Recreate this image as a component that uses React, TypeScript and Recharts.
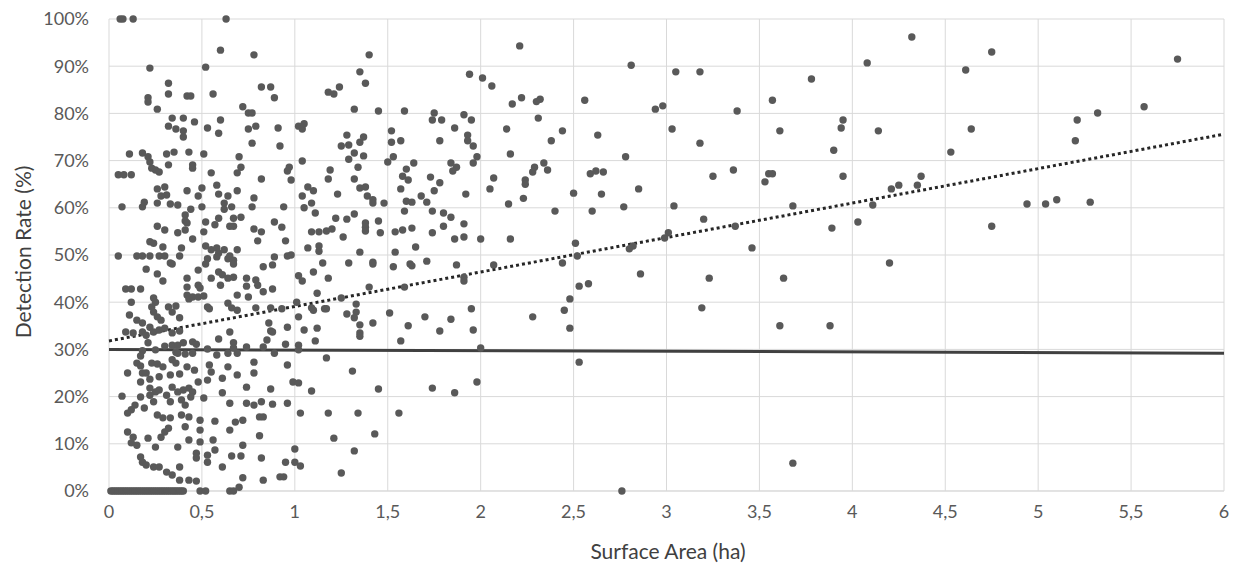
import React from 'react';
import {
  ScatterChart,
  Scatter,
  XAxis,
  YAxis,
  CartesianGrid,
  ReferenceLine,
  Label,
} from 'recharts';

// axis ticks
const xTicks = [0, 0.5, 1, 1.5, 2, 2.5, 3, 3.5, 4, 4.5, 5, 5.5, 6];
const yTicks = [0, 10, 20, 30, 40, 50, 60, 70, 80, 90, 100];

// sites with 0% detection (the solid bar along the bottom)
const zeroRow = [
  0.01, 0.02, 0.03, 0.04, 0.05, 0.06, 0.07, 0.08, 0.09, 0.1, 0.11, 0.12, 0.13, 0.14,
  0.15, 0.16, 0.17, 0.18, 0.19, 0.2, 0.21, 0.22, 0.23, 0.24, 0.25, 0.26, 0.27, 0.28,
  0.29, 0.3, 0.31, 0.32, 0.33, 0.34, 0.35, 0.36, 0.37, 0.38, 0.39, 0.4, 0.49, 0.52,
  0.65, 0.67, 2.76,
];

// [surface area (ha), detection rate (%)]
const underOneUpper: [number, number][] = [
  [0.06, 100], [0.075, 100], [0.13, 100], [0.63, 100], [0.6, 93.4], [0.78, 92.4],
  [0.22, 89.6], [0.52, 89.8], [0.32, 86.4], [0.32, 84.1], [0.82, 85.6], [0.87, 85.6],
  [0.89, 83.3], [0.21, 83.3], [0.21, 82.4], [0.42, 83.7], [0.44, 83.7], [0.56, 84.1],
  [0.26, 80.9], [0.72, 81.4], [0.75, 80.1], [0.77, 80.1], [0.34, 79], [0.4, 79],
  [0.46, 78.2], [0.6, 78.6], [0.32, 77.3], [0.36, 76.7], [0.4, 76.3], [0.4, 75],
  [0.53, 76.9], [0.59, 75.8], [0.75, 76.7], [0.79, 77.3], [0.91, 76.9], [0.77, 73.7],
  [0.92, 73.1], [0.11, 71.4], [0.18, 71.6], [0.21, 70.8], [0.22, 69.7], [0.31, 71.4],
  [0.35, 71.8], [0.43, 71.8], [0.51, 71.4], [0.32, 69.1], [0.23, 68.4], [0.25, 68],
  [0.27, 67.6], [0.45, 69.1], [0.45, 68.4], [0.7, 70.8], [0.71, 68.6], [0.97, 68.6],
  [0.96, 67.8], [0.55, 67.4], [0.69, 67.4], [0.05, 67], [0.08, 67], [0.12, 67],
  [0.26, 64], [0.3, 64.4], [0.31, 62.7], [0.28, 62.5], [0.42, 63.6], [0.48, 62.5],
  [0.5, 64.2], [0.58, 64.8], [0.59, 62.9], [0.64, 62.5], [0.69, 63.6], [0.78, 62.1],
  [0.82, 66.1], [0.98, 65.9], [0.07, 60.2], [0.18, 60.2], [0.19, 61.2], [0.26, 61],
  [0.33, 60.8], [0.37, 60.6], [0.44, 59.7], [0.5, 60.2], [0.62, 61], [0.62, 59.7],
  [0.66, 60.2], [0.77, 60.2], [0.94, 60.2], [0.41, 58.5], [0.41, 57.2], [0.42, 56.8],
  [0.52, 57], [0.59, 57.8], [0.57, 56.4], [0.67, 57.8], [0.71, 58], [0.65, 56.1],
  [0.67, 56.1], [0.26, 56.1], [0.3, 55.3], [0.37, 54.7], [0.41, 55.3], [0.51, 54.9],
  [0.78, 55.5], [0.82, 54.9], [0.8, 53], [0.89, 57], [0.93, 55.9], [0.95, 53],
  [0.45, 53.4], [0.22, 52.8], [0.24, 52.5], [0.29, 51.7], [0.39, 51.5], [0.52, 51.9],
  [0.55, 51.1], [0.58, 51.5], [0.59, 50.4], [0.58, 49.6], [0.62, 51.1], [0.65, 49.8],
  [0.69, 51.1], [0.05, 49.8], [0.15, 49.8], [0.18, 49.8], [0.22, 49.8], [0.27, 49.8],
  [0.3, 49.8], [0.38, 49.8], [0.53, 49.2], [0.64, 49.2], [0.67, 48.9], [0.89, 49.6],
  [0.96, 49.8], [0.98, 50],
];

const underOneMiddle: [number, number][] = [
  [0.33, 48.3], [0.34, 48.1], [0.52, 48.1], [0.48, 46.8], [0.67, 48.1], [0.88, 47.9],
  [0.83, 47.5], [0.2, 47], [0.26, 46], [0.29, 44.5], [0.42, 45.1], [0.42, 43.2],
  [0.48, 43.6], [0.49, 43], [0.55, 45.1], [0.59, 46.4], [0.6, 43.6], [0.61, 45.8],
  [0.64, 45.1], [0.67, 45.3], [0.74, 45.1], [0.74, 43.4], [0.79, 44.7], [0.8, 43.6],
  [0.83, 42.2], [0.88, 42.8], [0.69, 41.5], [0.75, 41.1], [0.09, 42.8], [0.12, 42.8],
  [0.17, 42.8], [0.24, 40.9], [0.25, 40], [0.42, 41.5], [0.43, 40.7], [0.45, 41.1],
  [0.48, 41.1], [0.51, 41.3], [0.12, 40], [0.32, 39], [0.36, 39.2], [0.53, 39],
  [0.54, 38.6], [0.64, 39.8], [0.66, 38.8], [0.69, 38.3], [0.11, 37.3], [0.15, 36.2],
  [0.18, 35.6], [0.23, 39], [0.24, 37.9], [0.26, 36.9], [0.28, 36.2], [0.34, 37.9],
  [0.38, 36.7], [0.79, 38.8], [0.87, 38.8], [0.93, 38.6], [0.86, 35.6], [0.87, 33.9],
  [0.96, 34.7], [0.09, 33.7], [0.13, 33.5], [0.18, 33.7], [0.22, 34.7], [0.24, 33.7],
  [0.27, 34.1], [0.3, 34.5], [0.2, 33], [0.34, 33.5], [0.38, 33.9], [0.21, 31.4],
  [0.3, 30.7], [0.34, 30.9], [0.37, 30.9], [0.4, 31.4], [0.45, 31.6], [0.47, 31.1],
  [0.59, 32.2], [0.65, 33.7], [0.67, 31.4], [0.67, 30.3], [0.74, 30.5], [0.83, 30.5],
  [0.88, 33.7], [0.85, 32], [0.95, 31.1],
];

const underOneLower: [number, number][] = [
  [0.18, 29.7], [0.17, 28.6], [0.25, 29.9], [0.36, 29.4], [0.37, 29.2], [0.45, 29.2],
  [0.41, 29], [0.53, 30.1], [0.58, 28.8], [0.64, 29.2], [0.69, 29.2], [0.89, 29.2],
  [0.15, 27.1], [0.17, 26.5], [0.23, 27.1], [0.26, 26.9], [0.29, 26.3], [0.34, 27.8],
  [0.36, 27.1], [0.1, 25], [0.18, 25], [0.2, 25], [0.22, 23.7], [0.27, 24.2],
  [0.33, 24.6], [0.38, 24.8], [0.42, 26.3], [0.46, 25.6], [0.54, 26.7], [0.55, 25.2],
  [0.53, 23.5], [0.64, 26.3], [0.69, 24.6], [0.78, 25], [0.78, 27.3], [0.96, 26.7],
  [0.61, 23.9], [0.17, 23.1], [0.22, 21.8], [0.25, 21], [0.27, 21.4], [0.34, 22],
  [0.37, 21], [0.4, 21.4], [0.43, 21.8], [0.45, 21], [0.48, 23.1], [0.74, 22],
  [0.87, 21.6], [0.61, 20.8], [0.07, 20.1], [0.22, 20.3], [0.24, 18.9], [0.17, 19.9],
  [0.31, 20.3], [0.33, 18.9], [0.39, 19.3], [0.41, 18.2], [0.44, 19.9], [0.51, 19.7],
  [0.65, 18.6], [0.74, 18.6], [0.78, 18.2], [0.82, 18.9], [0.88, 18.4], [0.96, 18.6],
  [0.14, 18.2], [0.12, 17.2], [0.1, 16.5], [0.19, 17.6], [0.26, 16.1], [0.29, 15.5],
  [0.33, 15.5], [0.39, 16.1], [0.43, 15.7], [0.41, 13.6], [0.49, 15], [0.57, 14.8],
  [0.49, 12.9], [0.68, 14.6], [0.72, 15], [0.81, 15.7], [0.83, 15.7], [0.65, 12.9],
  [0.81, 11.7], [0.1, 12.5], [0.13, 11.4], [0.12, 10.2], [0.15, 9.7], [0.21, 11.2],
  [0.25, 9.3], [0.28, 11.4], [0.3, 12.5], [0.32, 13.3], [0.37, 9.3], [0.43, 10.8],
  [0.49, 10.4], [0.56, 10.8], [0.57, 8.7], [0.53, 7.6], [0.53, 6.1], [0.61, 5.1],
  [0.66, 7.4], [0.71, 7.4], [0.72, 9.7], [0.47, 8], [0.47, 7], [0.17, 7.2],
  [0.18, 6.1], [0.2, 5.5], [0.24, 5.1], [0.27, 5.1], [0.31, 4], [0.34, 3.4],
  [0.38, 5.1], [0.38, 2.3], [0.43, 2.3], [0.47, 2.1], [0.82, 7], [0.95, 6.1],
  [0.92, 3], [0.94, 3], [0.83, 2.3], [0.72, 2.8], [0.7, 0.8],
];

const oneToTwo: [number, number][] = [
  [1.4, 92.4], [1.35, 88.8], [1.38, 86.4], [1.18, 84.5], [1.21, 84.1], [1.24, 85.6],
  [1.32, 80.9], [1.45, 80.5], [1.59, 80.5], [1.94, 88.3], [1.02, 77.3], [1.04, 76.7],
  [1.05, 77.8], [1.28, 75.4], [1.37, 75], [1.35, 73.9], [1.25, 73.1], [1.29, 73.3],
  [1.32, 71.6], [1.37, 71], [1.29, 70.3], [1.34, 68.6], [1.04, 69.9], [1.19, 68],
  [1.52, 76.3], [1.52, 73.9], [1.57, 74.2], [1.53, 70.8], [1.5, 69.7], [1.64, 69.5],
  [1.6, 68.2], [1.75, 80.1], [1.74, 78.6], [1.79, 78.6], [1.91, 79.7], [1.95, 78.6],
  [1.86, 76.9], [1.78, 74.2], [1.93, 75.4], [1.93, 74.2], [1.96, 73.1], [1.98, 70.8],
  [1.96, 69.5], [1.84, 69.5], [1.87, 68.6], [1.85, 67.8], [1.18, 66.1], [1.07, 64.4],
  [1.1, 63.6], [1.04, 62.5], [1.05, 60], [1.09, 61], [1.11, 58.9], [1.23, 62.9],
  [1.32, 66.1], [1.35, 64.2], [1.38, 64.4], [1.39, 62.5], [1.42, 61.7], [1.42, 61],
  [1.48, 61], [1.58, 66.7], [1.61, 65.9], [1.57, 64], [1.73, 66.5], [1.78, 65.3],
  [1.75, 63.6], [1.92, 62.9], [1.6, 61.4], [1.63, 61.2], [1.59, 59.3], [1.68, 62.5],
  [1.71, 61.2], [1.74, 59.3], [1.8, 58.9], [1.84, 58], [1.8, 56.1], [1.91, 56.6],
  [1.91, 53.8], [1.86, 53.4], [1.22, 57.8], [1.28, 57.6], [1.32, 58.7], [1.09, 54.9],
  [1.13, 54.9], [1.17, 55.1], [1.2, 55.5], [1.26, 53.8], [1.38, 56.8], [1.38, 55.9],
  [1.38, 55.1], [1.45, 57.2], [1.46, 54.7], [1.54, 54.9], [1.58, 55.3], [1.63, 55.7],
  [1.65, 51.7], [1.74, 54.7], [1.07, 51.5], [1.13, 51.9], [1.13, 50.8], [1.35, 50.6],
  [1.54, 50.6], [1.15, 48.3], [1.29, 48.3], [1.42, 48.5], [1.42, 48.1], [1.53, 47.5],
  [1.62, 48.1], [1.63, 47.7], [1.71, 48.7], [1.87, 47.9], [1.1, 46.4], [1.18, 45.1],
  [1.02, 45.6], [1.04, 44.5], [1.91, 44.5], [1.91, 45.3], [1.4, 43.2], [1.59, 43.2],
  [1.12, 41.9], [1.25, 40.9], [1.33, 39.6], [1.02, 36.9], [1.09, 38.8], [1.1, 38.3],
  [1.16, 38.6], [1.17, 38.6], [1.28, 37.5], [1.33, 37.9], [1.32, 36.7], [1.35, 35.2],
  [1.42, 35.6], [1.51, 37.7], [1.7, 36.9], [1.84, 36.4], [1.95, 38.6], [1.61, 35],
  [1.78, 33.9], [1.96, 34.1], [1.05, 34.1], [1.12, 34.5], [1.35, 33.5], [1.01, 40],
  [1.11, 31.8], [1.02, 30.9], [1.02, 29.9], [1.35, 32.8], [1.57, 31.8], [1.17, 28.2],
  [1.31, 25.4], [0.99, 23.1], [1.02, 22.9], [1.09, 21.2], [1.45, 21.6], [1.74, 21.8],
  [1.86, 20.8], [1.98, 23.1], [1.03, 16.5], [1.18, 16.5], [1.34, 16.5], [1.56, 16.5],
  [1.21, 11.2], [1.43, 12.1], [1.0, 8.9], [1.32, 8.5], [1.0, 6.1], [1.03, 5.3],
  [1.25, 3.8],
];

const twoToFour: [number, number][] = [
  [2.21, 94.3], [2.01, 87.5], [2.06, 85.8], [2.17, 82], [2.22, 83.3], [2.3, 82.5],
  [2.32, 83], [2.31, 79], [2.14, 76.7], [2.44, 76.3], [2.38, 74.2], [2.16, 71.4],
  [2.29, 68.6], [2.28, 67.6], [2.34, 69.5], [2.36, 68], [2.07, 66.3], [2.05, 64],
  [2.24, 65.9], [2.24, 65], [2.23, 62], [2.15, 60.8], [2.4, 59.3], [2.5, 63.1],
  [2.16, 53.4], [2.0, 53.4], [2.51, 52.5], [2.52, 49.8], [2.56, 82.8], [2.81, 90.2],
  [2.63, 75.4], [2.78, 70.8], [2.59, 67.2], [2.62, 67.8], [2.66, 67.6], [2.65, 62.9],
  [2.85, 64], [2.6, 59.3], [2.77, 60.2], [2.94, 80.9], [2.98, 81.6], [3.05, 88.8],
  [3.18, 88.8], [3.03, 76.7], [3.18, 73.7], [3.38, 80.5], [3.04, 60.4], [3.25, 66.7],
  [3.36, 68], [3.2, 57.6], [3.37, 56.1], [3.46, 51.5], [2.8, 51.3], [2.82, 51.9],
  [2.99, 53.6], [3.01, 54.7], [3.78, 87.3], [3.57, 82.8], [3.61, 76.3], [3.95, 78.6],
  [3.94, 76.9], [3.9, 72.2], [3.53, 65.5], [3.55, 67.2], [3.57, 67.2], [3.95, 66.7],
  [3.68, 60.4], [3.89, 55.7], [2.07, 47.9], [2.44, 48.3], [2.86, 46], [2.53, 43.4],
  [2.58, 43.9], [2.48, 40.7], [2.45, 38.3], [2.48, 34.5], [2.28, 36.9], [3.23, 45.1],
  [3.19, 38.8], [3.63, 45.1], [3.61, 35], [3.88, 35], [2.53, 27.3], [3.68, 5.9],
  [2.0, 30.3],
];

const fourToSix: [number, number][] = [
  [4.03, 57], [4.32, 96.2], [4.08, 90.7], [4.75, 93], [4.61, 89.2], [5.75, 91.5],
  [4.14, 76.3], [4.64, 76.7], [4.53, 71.8], [5.57, 81.4], [5.32, 80.1], [5.21, 78.6],
  [5.2, 74.2], [4.37, 66.7], [4.35, 64.8], [4.25, 64.8], [4.21, 64], [4.11, 60.6],
  [4.2, 48.3], [4.75, 56.1], [4.94, 60.8], [5.04, 60.8], [5.1, 61.7], [5.28, 61.2],
];

// linear trend (dotted) and 30% reference line (solid), as end values at x=0 and x=6
const trendAt0 = 31.8;
const trendAt6 = 75.6;
const refAt0 = 30;
const refAt6 = 29.2;

const points = [
  ...zeroRow.map((x) => ({ x, y: 0 })),
  ...[...underOneUpper, ...underOneMiddle, ...underOneLower, ...oneToTwo, ...twoToFour, ...fourToSix].map(
    ([x, y]) => ({ x, y })
  ),
];

const FONT = 'Lato, "Liberation Sans", sans-serif';
const TICK = { fill: '#595959', fontSize: 18, fontFamily: FONT };

const Dot = (props: any) => <circle cx={props.cx} cy={props.cy} r={3.7} fill="#595959" />;

export default function App() {
  return (
    <div style={{ position: 'absolute', left: 0, top: 0, width: 1237, height: 571, background: '#fff' }}>
      <ScatterChart width={1237} height={571} margin={{ top: 19, right: 13, bottom: 0, left: 0 }}>
        <CartesianGrid stroke="#d9d9d9" strokeWidth={1} />
        <XAxis
          type="number"
          dataKey="x"
          domain={[0, 6]}
          ticks={xTicks}
          tickFormatter={(v: number) => String(v).replace('.', ',')}
          tick={TICK}
          axisLine={{ stroke: '#d9d9d9' }}
          tickLine={false}
          tickSize={0}
          tickMargin={14}
          height={80}
        >
          <Label
            content={() => (
              <text
                x={668}
                y={550}
                textAnchor="middle"
                dominantBaseline="central"
                fill="#404040"
                fontSize={21}
                fontFamily={FONT}
              >
                Surface Area (ha)
              </text>
            )}
          />
        </XAxis>
        <YAxis
          type="number"
          dataKey="y"
          domain={[0, 100]}
          ticks={yTicks}
          tickFormatter={(v: number) => `${v}%`}
          tick={TICK}
          axisLine={false}
          tickLine={false}
          tickSize={0}
          tickMargin={20}
          width={109}
        >
          <Label
            content={() => (
              <text
                x={22}
                y={252}
                transform="rotate(-90 22 252)"
                textAnchor="middle"
                dominantBaseline="central"
                fill="#404040"
                fontSize={21}
                fontFamily={FONT}
              >
                Detection Rate (%)
              </text>
            )}
          />
        </YAxis>
        <Scatter data={points} shape={Dot} isAnimationActive={false} />
        <ReferenceLine
          segment={[{ x: 0, y: refAt0 }, { x: 6, y: refAt6 }]}
          stroke="#404040"
          strokeWidth={3}
          ifOverflow="visible"
        />
        <ReferenceLine
          segment={[{ x: 0, y: trendAt0 }, { x: 6, y: trendAt6 }]}
          stroke="#262626"
          strokeWidth={3}
          strokeDasharray="3 3"
          ifOverflow="visible"
        />
      </ScatterChart>
    </div>
  );
}
